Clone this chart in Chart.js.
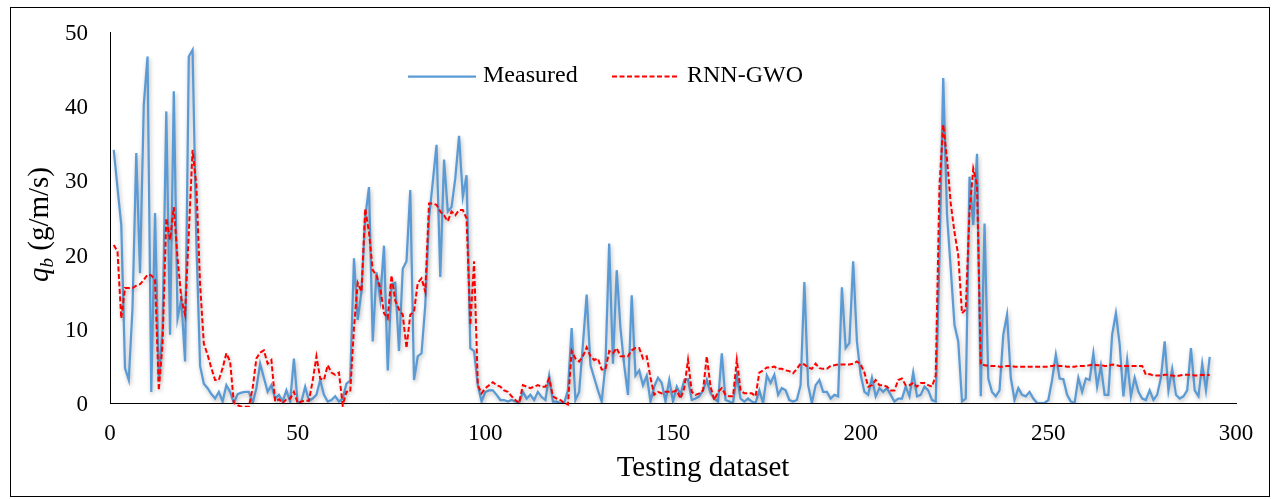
<!DOCTYPE html>
<html>
<head>
<meta charset="utf-8">
<title>Sediment transport - testing dataset</title>
<script src="https://cdn.jsdelivr.net/npm/chart.js"></script>
<style>
  html, body { margin: 0; padding: 0; background: #fff; }
  #wrap { width: 1276px; height: 499px; }
</style>
</head>
<body>
<div id="wrap"><canvas id="qbChart" width="1276" height="499"></canvas></div>
<script>
// --- data: bed load q_b (g/m/s) per sample of the testing set ---
const measured = [
  34.1, 29, 24, 4.7, 3.1, 12.8, 33.7, 17.5, 40.2, 46.7,
  1.5, 25.6, 3, 10, 39.3, 9.2, 42, 11.4, 14, 5.6,
  46.7, 47.6, 22, 5, 2.6, 2, 1.2, 0.6, 1.5, 0.2,
  2.4, 1.5, 0, 1.2, 1.4, 1.5, 1.5, 0, 2, 5.3,
  3.4, 1.5, 2.4, 0.6, 1.1, 0.2, 1.7, 0.2, 6, 0,
  0.2, 2.2, 0.3, 0.6, 1.1, 3.1, 1.1, 0.2, 0.4, 0.9,
  0.2, 0.6, 2.6, 3, 19.5, 11.2, 15, 25, 29.1, 8.3,
  17.6, 14, 21.2, 4.4, 16, 16.2, 7, 18.1, 19.1, 28.7,
  3.1, 6.3, 6.7, 13.2, 24.9, 29.8, 34.8, 17, 32.8, 25.8,
  26.4, 30.3, 36, 27.8, 30.7, 7.4, 7, 2.4, 0.2, 1.5,
  1.7, 1.7, 1.1, 0.4, 0.4, 0.2, 0.4, 0.2, 0, 1.5,
  0.6, 1.1, 0.4, 1.5, 0.8, 0.4, 3.7, 0.2, 0.2, 0,
  0, 1.7, 10.1, 0.4, 1.5, 7.9, 14.6, 5.1, 3.4, 1.7,
  0.2, 5.1, 21.5, 5.3, 17.9, 10.1, 5.1, 1.1, 14.5, 3.7,
  4.4, 2.4, 3.7, 0.2, 2.2, 3.4, 2.7, 0.2, 3.1, 0.2,
  2.2, 1.1, 3.1, 3.2, 0.4, 0.6, 0.9, 1.7, 3.1, 1.3,
  0.6, 0.2, 6.7, 0.4, 0.2, 0, 3.7, 0.6, 0.2, 0.6,
  0.2, 0, 1.7, 0, 3.7, 2.7, 3.8, 1.1, 2, 1.7,
  0.4, 0.2, 0.4, 2.4, 16.3, 2.4, 0, 2.4, 3.1, 1.5,
  1.5, 0.6, 1.1, 0.9, 15.6, 7.4, 8.1, 19.1, 8.3, 3.8,
  1.5, 1.1, 3.4, 0.9, 2, 1.5, 2, 1.1, 0.2, 0.6,
  0.6, 2.2, 0.9, 4.1, 0.9, 1.1, 2.2, 1.7, 0.4, 0.2,
  20, 43.8, 25.4, 18.1, 10.5, 8.3, 0.2, 0.6, 30.5, 24,
  33.6, 0.9, 24.2, 3.3, 1.5, 0.9, 1.7, 9.2, 11.9, 3.4,
  0.4, 2, 1.1, 0.9, 1.5, 0.6, 0, 0, 0, 0.4,
  3.1, 6.5, 3.3, 3.2, 1.1, 0.2, 0, 3.4, 1.5, 3.3,
  3.1, 6.7, 2.2, 5, 1.1, 1.1, 9.2, 12.1, 7.9, 0.9,
  5.8, 0.9, 3.4, 1.5, 0.6, 0.4, 1.7, 0.4, 1.1, 3.4,
  8.3, 1.7, 4.6, 1.1, 0.6, 0.9, 1.7, 7.4, 1.7, 0.9,
  5.3, 1.7, 6.2
];

const rnnGwo = [
  21.3, 20.4, 11.4, 15.5, 15.5, 15.5, 15.8, 16, 16.6, 17.3,
  17.2, 16.6, 1.7, 8, 24.9, 22, 26.4, 19.5, 14.1, 11.9,
  23, 34.1, 29.4, 16, 8, 6.5, 4.7, 3.1, 3.1, 4.7,
  6.7, 5.6, 0, -0.3, -0.5, -0.5, -0.5, 2, 6, 6.8,
  7.1, 5.3, 5.8, 0.2, 0.5, 0, 0.5, 0.6, 1.5, 0,
  0.2, 0.3, 0.3, 3, 6.3, 3.3, 3.1, 5.1, 4.1, 3.8,
  4.1, -0.3, 1.5, 1.5, 10.1, 16.2, 15, 26.2, 23, 17.9,
  17.2, 15.5, 12.1, 11.4, 17.2, 13.8, 12.6, 11.9, 7.4, 11.9,
  12.3, 16.2, 16.8, 15, 26.9, 26.9, 26.7, 25.8, 25.3, 24.5,
  25.8, 25.3, 26, 26, 24.9, 10.5, 19.1, 2.4, 1.3, 2,
  2.4, 2.8, 2.4, 2.2, 1.7, 1.5, 0.9, 0.4, 0, 2.4,
  2.2, 2, 2.2, 2.4, 2.2, 2.2, 3.3, 0.9, 0.6, 0.4,
  0, -0.2, 7, 6, 5.6, 6.3, 7.5, 6.3, 5.8, 6,
  4.5, 4.5, 7, 6.7, 7.4, 6.3, 6.3, 6.3, 7.1, 7.4,
  7.4, 6, 6.3, 3.4, 1.1, 1.5, 1.3, 1.5, 1.5, 1.5,
  1.7, 0.6, 2, 5.8, 1.5, 1.1, 1.3, 1.7, 6.3, 2.2,
  0.4, 1.5, 2, 1.1, 0.9, 0.9, 5.8, 1.7, 1.3, 1.3,
  1.3, 0.9, 4.1, 4.4, 4.8, 4.8, 4.9, 4.6, 4.6, 4.4,
  4.3, 4, 4.6, 5.3, 5.2, 4.8, 4.6, 5.3, 4.7, 4.6,
  4.6, 5, 5.1, 5.2, 5.2, 5.2, 5.2, 5.3, 5.6, 5.2,
  4.1, 2.2, 2.4, 3.1, 2.4, 2.4, 2.2, 1.7, 1.7, 3.1,
  3.3, 2.4, 2.4, 2.7, 2.2, 2.7, 2.7, 2.4, 2.2, 3.7,
  29.4, 37.5, 32.9, 26.9, 23, 19.9, 12.1, 12.6, 25.8, 31.6,
  29.4, 5.2, 5.1, 5, 5, 5, 4.9, 4.9, 5, 5,
  4.9, 4.9, 4.9, 4.9, 4.9, 4.9, 4.9, 4.9, 4.9, 4.9,
  5, 5.1, 5, 5, 4.9, 4.9, 4.9, 5, 5, 5,
  5.1, 5.2, 5.1, 5.1, 5, 5, 5.2, 5.1, 5, 5,
  5, 5, 5, 5, 5, 3.8, 3.9, 3.7, 3.7, 3.7,
  3.8, 3.8, 3.7, 3.6, 3.7, 3.8, 3.8, 3.8, 3.7, 3.7,
  3.8, 3.7, 3.8
];

const xTicks = [0, 50, 100, 150, 200, 250, 300];
const yTicks = [0, 10, 20, 30, 40, 50];
const seriesNames = ["Measured", "RNN-GWO"];
const xTitle = "Testing dataset";

// sample numbers run 1..n
const sampleNo = measured.map((_, i) => i + 1);
const toPoints = (values) => values.map((v, i) => ({ x: sampleNo[i], y: v }));

const SERIF = "'Liberation Serif', 'Times New Roman', serif";
const BLUE = "#5B9BD5";
const RED = "#FF0000";

// outer frame around the whole figure
const framePlugin = {
  id: "frame",
  afterDraw(chart) {
    const ctx = chart.ctx;
    ctx.save();
    ctx.strokeStyle = "#000";
    ctx.lineWidth = 1;
    ctx.strokeRect(10.5, 7.5, 1259, 489);
    ctx.restore();
  },
};

// soft drop shadow under the lines
const shadowPlugin = {
  id: "lineShadow",
  beforeDatasetDraw(chart) {
    const ctx = chart.ctx;
    ctx.save();
    ctx.shadowColor = "rgba(0,0,0,0.28)";
    ctx.shadowBlur = 4;
    ctx.shadowOffsetX = 1;
    ctx.shadowOffsetY = 2;
  },
  afterDatasetDraw(chart) {
    chart.ctx.restore();
  },
};

// legend inside the plot, axis titles (y title has italic q with subscript b)
const labelsPlugin = {
  id: "labels",
  afterDraw(chart) {
    const ctx = chart.ctx;
    ctx.save();

    // legend entries
    const entries = [
      { ds: chart.data.datasets[1], x0: 408, x1: 476, tx: 483 },
      { ds: chart.data.datasets[0], x0: 612, x1: 679, tx: 687 },
    ];
    const ly = 76;
    entries.forEach((e) => {
      ctx.beginPath();
      ctx.strokeStyle = e.ds.borderColor;
      ctx.lineWidth = e.ds.borderWidth;
      ctx.setLineDash(e.ds.borderDash || []);
      ctx.moveTo(e.x0, ly + 0.5);
      ctx.lineTo(e.x1, ly + 0.5);
      ctx.stroke();
      ctx.setLineDash([]);
      ctx.fillStyle = "#000";
      ctx.font = "24px " + SERIF;
      ctx.textBaseline = "middle";
      ctx.textAlign = "left";
      ctx.fillText(e.ds.label, e.tx, ly);
    });

    // x axis title
    ctx.font = "29px " + SERIF;
    ctx.textAlign = "center";
    ctx.textBaseline = "middle";
    ctx.fillText(xTitle, 703, 468);

    // y axis title, rotated
    ctx.translate(48, 282);
    ctx.rotate(-Math.PI / 2);
    ctx.textBaseline = "alphabetic";
    ctx.textAlign = "left";
    let x = 0;
    ctx.font = "italic 29px " + SERIF;
    ctx.fillText("q", x, 0);
    x += ctx.measureText("q").width;
    ctx.font = "italic 19px " + SERIF;
    ctx.fillText("b", x, 5);
    x += ctx.measureText("b").width;
    ctx.font = "29px " + SERIF;
    ctx.fillText(" (g/m/s)", x, 0);

    ctx.restore();
  },
};

const ctx = document.getElementById("qbChart").getContext("2d");
const qbChart = new Chart(ctx, {
  type: "line",
  data: {
    datasets: [
      {
        label: seriesNames[1],
        data: toPoints(rnnGwo),
        borderColor: RED,
        borderWidth: 2,
        borderDash: [5, 2.5],
        pointRadius: 0,
        tension: 0,
        order: 1,
        clip: 4,
      },
      {
        label: seriesNames[0],
        data: toPoints(measured),
        borderColor: BLUE,
        borderWidth: 2.25,
        pointRadius: 0,
        tension: 0,
        order: 2,
      },
    ],
  },
  options: {
    responsive: false,
    animation: false,
    layout: { padding: { left: 0, top: 32, right: 40, bottom: 0 } },
    plugins: {
      legend: { display: false },
      tooltip: { enabled: false },
    },
    scales: {
      x: {
        type: "linear",
        min: xTicks[0],
        max: xTicks[xTicks.length - 1],
        afterBuildTicks: (scale) => {
          scale.ticks = xTicks.map((v) => ({ value: v }));
        },
        afterFit: (scale) => {
          scale.height = 96;
        },
        grid: { display: false },
        border: { display: true, color: "#000", width: 1 },
        ticks: {
          color: "#000",
          padding: 9,
          maxRotation: 0,
          font: { family: SERIF, size: 23 },
        },
      },
      y: {
        min: yTicks[0],
        max: yTicks[yTicks.length - 1],
        afterBuildTicks: (scale) => {
          scale.ticks = yTicks.map((v) => ({ value: v }));
        },
        afterFit: (scale) => {
          scale.width = 110;
        },
        grid: { display: false },
        border: { display: true, color: "#000", width: 1 },
        ticks: {
          color: "#000",
          padding: 14,
          labelOffset: 2,
          font: { family: SERIF, size: 23 },
        },
      },
    },
  },
  plugins: [shadowPlugin, labelsPlugin, framePlugin],
});
</script>
</body>
</html>
